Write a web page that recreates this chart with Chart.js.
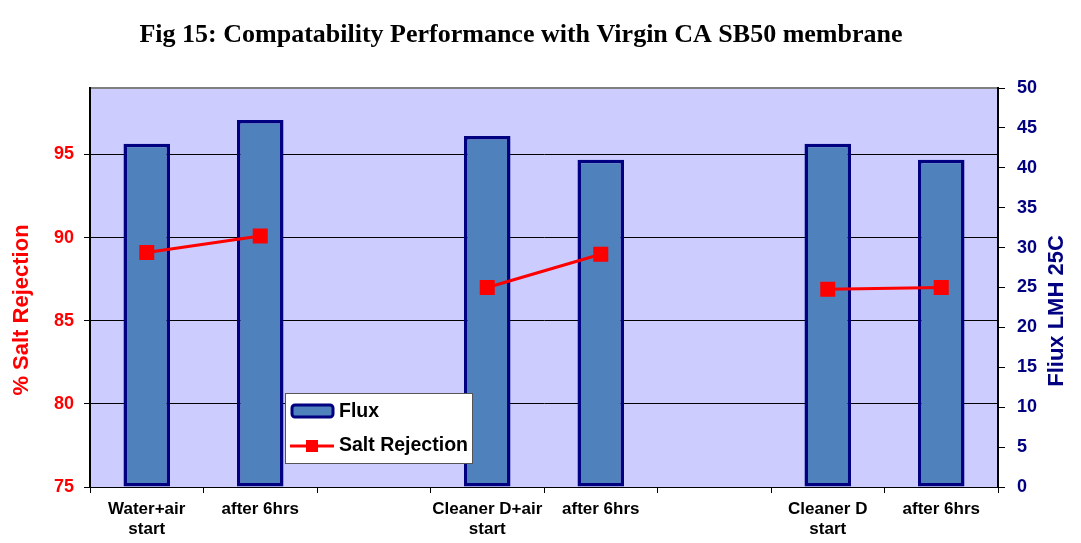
<!DOCTYPE html>
<html>
<head>
<meta charset="utf-8">
<script src="https://cdn.jsdelivr.net/npm/chart.js@4/dist/chart.umd.min.js"></script>
<style>
  body { margin: 0; background: #fff; }
  #wrap { width: 1081px; height: 543px; }
</style>
</head>
<body>
<div id="wrap"><canvas id="myChart" width="1081" height="543"></canvas></div>
<script>
// categories (two blank slots separate the three tests)
var labels = [
    ['Water+air', 'start'], 'after 6hrs', '',
    ['Cleaner D+air', 'start'], 'after 6hrs', '',
    ['Cleaner D', 'start'], 'after 6hrs'
];
var flux = [43, 46, null, 44, 41, null, 43, 41];
var saltRejection = [89.1, 90.1, null, 87.0, 89.0, null, 86.9, 87.0];
var leftTicks = [75, 80, 85, 90, 95];

var TITLE = 'Fig 15: Compatability Performance with Virgin CA SB50 membrane';
var NAVY = '#000080';
var BARFILL = '#4F81BD';
var SANS = 'Arial, "Liberation Sans", sans-serif';

// title, plot background + border, axis titles, in-plot legend
var decor = {
    id: 'decor',
    beforeDraw: function(chart) {
        var a = chart.chartArea, ctx = chart.ctx;
        ctx.save();
        ctx.fillStyle = '#CCCCFF';
        ctx.fillRect(a.left, a.top, a.right - a.left, a.bottom - a.top);
        ctx.strokeStyle = '#808080';
        ctx.lineWidth = 2;
        ctx.beginPath();
        ctx.moveTo(a.left, a.top);
        ctx.lineTo(a.right, a.top);
        ctx.stroke();
        // title (sits a little left of centre, as in the figure)
        ctx.fillStyle = '#000000';
        ctx.font = 'bold 26px "Liberation Serif", "Times New Roman", serif';
        ctx.textAlign = 'center';
        ctx.textBaseline = 'middle';
        ctx.fillText(TITLE, 521, 35);
        ctx.restore();
    },
    afterDraw: function(chart) {
        var a = chart.chartArea, ctx = chart.ctx;
        // axis titles, both read bottom to top
        ctx.save();
        ctx.font = 'bold 22px ' + SANS;
        ctx.textAlign = 'center';
        ctx.textBaseline = 'middle';
        ctx.fillStyle = '#FF0000';
        ctx.translate(22, 310);
        ctx.rotate(-Math.PI / 2);
        ctx.fillText('% Salt Rejection', 0, 0);
        ctx.restore();
        ctx.save();
        ctx.font = 'bold 22px ' + SANS;
        ctx.textAlign = 'center';
        ctx.textBaseline = 'middle';
        ctx.fillStyle = NAVY;
        ctx.translate(1057, 311);
        ctx.rotate(-Math.PI / 2);
        ctx.fillText('Fliux LMH 25C', 0, 0);
        ctx.restore();

        // legend box
        var lx = a.left + 195, ly = a.top + 305;
        ctx.save();
        ctx.fillStyle = '#FFFFFF';
        ctx.fillRect(lx, ly, 187, 70);
        ctx.strokeStyle = '#555555';
        ctx.lineWidth = 1;
        ctx.strokeRect(lx + 0.5, ly + 0.5, 187, 70);
        // flux swatch
        ctx.fillStyle = BARFILL;
        ctx.strokeStyle = NAVY;
        ctx.lineWidth = 3;
        ctx.beginPath();
        ctx.roundRect(lx + 7, ly + 12, 41, 12, 3);
        ctx.fill();
        ctx.stroke();
        // salt rejection swatch
        ctx.strokeStyle = '#FF0000';
        ctx.lineWidth = 3;
        ctx.beginPath();
        ctx.moveTo(lx + 5, ly + 53);
        ctx.lineTo(lx + 49, ly + 53);
        ctx.stroke();
        ctx.fillStyle = '#FF0000';
        ctx.fillRect(lx + 21, ly + 47, 12, 12);
        ctx.fillStyle = '#000000';
        ctx.font = 'bold 19.5px ' + SANS;
        ctx.textBaseline = 'middle';
        ctx.fillText('Flux', lx + 54, ly + 19);
        ctx.fillText('Salt Rejection', lx + 54, ly + 53);
        ctx.restore();
    }
};

var ctx = document.getElementById('myChart').getContext('2d');
var myChart = new Chart(ctx, {
    type: 'bar',
    data: {
        labels: labels,
        datasets: [{
            type: 'line',
            label: 'Salt Rejection',
            data: saltRejection,
            yAxisID: 'y',
            order: 0,
            borderColor: '#FF0000',
            backgroundColor: '#FF0000',
            borderWidth: 3,
            pointStyle: 'rect',
            pointRadius: 8.5,
            pointHoverRadius: 8.5,
            spanGaps: false,
            tension: 0
        }, {
            type: 'bar',
            label: 'Flux',
            data: flux,
            yAxisID: 'y1',
            order: 1,
            backgroundColor: BARFILL,
            borderColor: NAVY,
            borderWidth: 3.5,
            borderSkipped: false,
            categoryPercentage: 1,
            barPercentage: 0.41
        }]
    },
    options: {
        responsive: false,
        animation: false,
        layout: { padding: { top: 88 } },
        plugins: {
            legend: { display: false },
            tooltip: { enabled: false },
            title: { display: false }
        },
        scales: {
            x: {
                offset: true,
                afterFit: function(s) { s.height = 56; },
                grid: { offset: true, drawOnChartArea: false, drawTicks: true, tickLength: 6, color: '#000000' },
                border: { color: '#000000', width: 1 },
                ticks: {
                    color: '#000000',
                    maxRotation: 0,
                    autoSkip: false,
                    padding: 6,
                    font: { family: SANS, size: 17, weight: 'bold' }
                }
            },
            y: {
                position: 'left',
                min: 75,
                max: 99,
                afterFit: function(s) { s.width = 90; },
                afterBuildTicks: function(s) {
                    s.ticks = leftTicks.map(function(v) { return { value: v }; });
                },
                grid: { color: '#000000', lineWidth: 1, tickLength: 6 },
                border: { color: '#000000', width: 2 },
                ticks: {
                    color: '#FF0000',
                    padding: 10,
                    font: { family: SANS, size: 18, weight: 'bold' }
                }
            },
            y1: {
                position: 'right',
                min: 0,
                max: 50,
                afterFit: function(s) { s.width = 83; },
                grid: { drawOnChartArea: false, tickLength: 7, color: '#000000' },
                border: { color: '#000000', width: 2 },
                ticks: {
                    stepSize: 5,
                    color: NAVY,
                    padding: 12,
                    font: { family: SANS, size: 18, weight: 'bold' }
                }
            }
        }
    },
    plugins: [decor]
});
</script>
</body>
</html>
